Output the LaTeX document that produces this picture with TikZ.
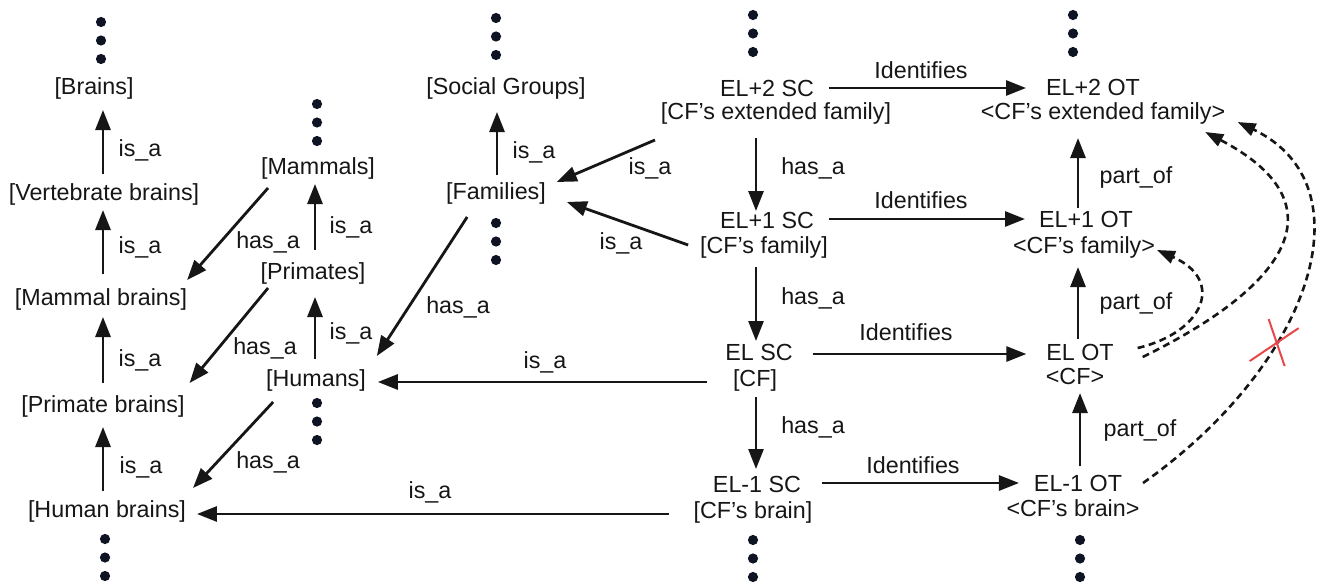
\documentclass[tikz,border=0pt]{standalone}
\usepackage{fontspec}
\setmainfont{Liberation Sans}
\usetikzlibrary{arrows.meta}
\definecolor{ink}{HTML}{161616}
\definecolor{dotc}{HTML}{0E1424}
\definecolor{crossred}{HTML}{E8474A}

\begin{document}
\begin{tikzpicture}[x=1pt,y=-1pt,
  txt/.style={font=\fontsize{23.3pt}{27pt}\selectfont, inner sep=0pt, outer sep=0pt,
              text height=17pt, text depth=5pt, text=ink},
  arr/.style={draw=ink, line width=2.8pt, -{Triangle[length=20pt,width=15pt]}},
  darr/.style={draw=ink, line width=2.6pt, dash pattern=on 7pt off 4.5pt,
               -{Triangle[length=18pt,width=13pt]}},
  xmark/.style={draw=crossred, line width=2pt},
]
\useasboundingbox (0,0) rectangle (1332,586);

% vertical ellipses marking continuation of each hierarchy
\foreach \x/\y in {101/22, 317/104, 496/18, 753/15, 1073/15,
                   496/223, 317/403, 105/539, 753/540, 1080/540} {
  \foreach \k in {0,1,2} \fill[dotc] (\x,\y+18.5*\k) circle[radius=5.1pt];
}

% brain hierarchy
\node[txt] (brains)   at (94,88)   {[Brains]};
\node[txt] (vert)     at (104,194) {[Vertebrate brains]};
\node[txt] (mammalb)  at (101,299) {[Mammal brains]};
\node[txt] (primateb) at (103,406) {[Primate brains]};
\node[txt] (humanb)   at (107,511) {[Human brains]};

% organism hierarchy
\node[txt] (mammals)  at (318,168) {[Mammals]};
\node[txt] (primates) at (313,273) {[Primates]};
\node[txt] (humans)   at (316,380) {[Humans]};

% group hierarchy
\node[txt] (social)   at (506,88)  {[Social Groups]};
\node[txt] (families) at (496,193) {[Families]};

% SC levels
\node[txt] (elp2sc)  at (767,90)  {EL+2 SC};
\node[txt] (elp2scb) at (776,113) {[CF’s extended family]};
\node[txt] (elp1sc)  at (767,222) {EL+1 SC};
\node[txt] (elp1scb) at (764,247) {[CF’s family]};
\node[txt] (elsc)    at (759,354) {EL SC};
\node[txt] (elscb)   at (755,380) {[CF]};
\node[txt] (elm1sc)  at (757,486) {EL-1 SC};
\node[txt] (elm1scb) at (753,512) {[CF’s brain]};

% OT levels
\node[txt] (elp2ot)  at (1093,89)  {EL+2 OT};
\node[txt] (elp2otb) at (1103,113) {<CF’s extended family>};
\node[txt] (elp1ot)  at (1086,221) {EL+1 OT};
\node[txt] (elp1otb) at (1084,247) {<CF’s family>};
\node[txt] (elot)    at (1080,354) {EL OT};
\node[txt] (elotb)   at (1075,378) {<CF>};
\node[txt] (elm1ot)  at (1078,485) {EL-1 OT};
\node[txt] (elm1otb) at (1073,510) {<CF’s brain>};

% brain is_a chain
\draw[arr, shorten <=9pt, shorten >=10pt] (humanb.north -| primateb) -- (primateb.south);
\draw[arr, shorten <=12pt, shorten >=7pt] (primateb.north) -- (primateb.north |- mammalb.south);
\draw[arr, shorten <=14pt, shorten >=5pt] (mammalb.north -| primateb) -- (vert.south -| primateb);
\draw[arr, shorten <=9pt, shorten >=11pt] (vert.north -| primateb) -- (brains.south -| primateb);
\node[txt] (lb1) at (140,150) {is\_a};
\node[txt] (lb2) at (140,247) {is\_a};
\node[txt] (lb3) at (140,360) {is\_a};
\node[txt] (lb4) at (141,467) {is\_a};

% organism is_a chain
\draw[arr, shorten <=12pt, shorten >=5pt] ([xshift=2pt]primates.north) -- ([xshift=2pt]primates.north |- mammals.south);
\draw[arr, shorten <=10pt, shorten >=13pt] ([xshift=-1pt]humans.north) -- ([xshift=-1pt]humans.north |- primates.south);
\node[txt] (lm1) at (351,227) {is\_a};
\node[txt] (lm2) at (351,333) {is\_a};

% has_a from organisms to brains
\draw[arr] ([xshift=7pt,yshift=-9pt]mammals.south west) -- ([yshift=8pt]mammalb.north east);
\draw[arr] ([xshift=7.5pt,yshift=-4pt]primates.south west) -- ([xshift=5pt,yshift=12pt]primateb.north east);
\draw[arr] ([xshift=7pt,yshift=-11pt]humans.south west) -- ([xshift=7pt,yshift=12pt]humanb.north east);
\node[txt] (lh1) at (268,242) {has\_a};
\node[txt] (lh2) at (265,348) {has\_a};
\node[txt] (lh3) at (268,462) {has\_a};

% group hierarchy links
\draw[arr, shorten <=7pt, shorten >=13pt] ([xshift=1pt]families.north) -- ([xshift=1pt]families.north |- social.south);
\node[txt] (ls1) at (534,152) {is\_a};
\draw[arr] ([xshift=21pt,yshift=-13pt]families.south west) -- ([xshift=11pt,yshift=13pt]humans.north east);
\node[txt] (lf) at (458,307) {has\_a};

% SC to groups / organisms / brains
\draw[arr] ([xshift=-6pt,yshift=-16pt]elp2scb.south west) -- ([xshift=11pt,yshift=11pt]families.east);
\node[txt] (le2) at (650,168) {is\_a};
\draw[arr] ([xshift=-12pt,yshift=2pt]elp1scb.west) -- ([xshift=21pt,yshift=-9pt]families.east);
\node[txt] (le1) at (621,243) {is\_a};
\draw[arr, shorten <=26pt, shorten >=12pt] ([yshift=-2pt]elscb.west) -- ([yshift=-2pt]elscb.west -| humans.east);
\node[txt] (le0) at (545,362) {is\_a};
\draw[arr, shorten <=25pt, shorten >=11pt] ([yshift=-2pt]elm1scb.west) -- ([yshift=-2pt]elm1scb.west -| humanb.east);
\node[txt] (lem) at (430,492) {is\_a};

% SC has_a chain
\draw[arr, shorten <=14pt, shorten >=0pt] ([xshift=-20pt]elp2scb.south) -- ([xshift=-20pt]elp2scb.south |- elp1sc.north);
\draw[arr, shorten <=9pt, shorten >=2pt] ([xshift=-8pt]elp1scb.south) -- ([xshift=-8pt]elp1scb.south |- elsc.north);
\draw[arr, shorten <=6pt, shorten >=6pt] ([xshift=1pt]elscb.south) -- ([xshift=1pt]elscb.south |- elm1sc.north);
\node[txt] (ls2) at (813,168) {has\_a};
\node[txt] (ls3) at (813,298) {has\_a};
\node[txt] (ls4) at (813,427) {has\_a};

% Identifies
\draw[arr, shorten <=15pt, shorten >=20pt] ([yshift=2pt]elp2sc.east) -- ([yshift=2pt]elp2sc.east -| elp2ot.west);
\draw[arr, shorten <=15pt, shorten >=14pt] ([yshift=3pt]elp1sc.east) -- ([yshift=3pt]elp1sc.east -| elp1ot.west);
\draw[arr, shorten <=20pt, shorten >=20pt] (elsc.east) -- (elsc.east -| elot.west);
\draw[arr, shorten <=21pt, shorten >=15pt] ([yshift=3pt]elm1sc.east) -- ([yshift=3pt]elm1sc.east -| elm1ot.west);
\node[txt] (li1) at (921,72)  {Identifies};
\node[txt] (li2) at (921,202) {Identifies};
\node[txt] (li3) at (906,334) {Identifies};
\node[txt] (li4) at (913,467) {Identifies};

% OT part_of chain
\draw[arr, shorten <=0pt, shorten >=14pt] ([xshift=-8pt,yshift=2pt]elp1ot.north) -- ([xshift=-8pt]elp1ot.north |- elp2otb.south);
\draw[arr, shorten <=4pt, shorten >=9pt] ([xshift=-2pt]elot.north) -- ([xshift=-2pt]elot.north |- elp1otb.south);
\draw[arr, shorten <=8pt, shorten >=4pt] ([xshift=2pt]elm1ot.north) -- ([xshift=2pt]elm1ot.north |- elotb.south);
\node[txt] (lp1) at (1136,177) {part\_of};
\node[txt] (lp2) at (1136,303) {part\_of};
\node[txt] (lp3) at (1140,430) {part\_of};

% dashed skip-level part_of links
\draw[darr] ([xshift=24pt,yshift=6pt]elot.east) .. controls +(67,-16) and +(68,30) .. ([xshift=2pt,yshift=-3pt]elp1otb.east);
\draw[darr] ([xshift=29pt,yshift=-3pt]elot.east) .. controls +(157,-77) and +(130,68) .. ([xshift=-20pt,yshift=-19pt]elp2otb.east);
\draw[darr] ([xshift=21pt,yshift=2pt]elm1ot.east) .. controls +(170,-120) and +(132,63) .. ([xshift=12.5pt,yshift=-9pt]elp2otb.east)
  coordinate[pos=0.35] (cut);

% crossed-out mark on the invalid link
\draw[xmark] ([shift={(-27,18)}]cut) -- ([shift={(22,-15)}]cut);
\draw[xmark] ([shift={(-8,-24)}]cut) -- ([shift={(8,23)}]cut);
\end{tikzpicture}
\end{document}
